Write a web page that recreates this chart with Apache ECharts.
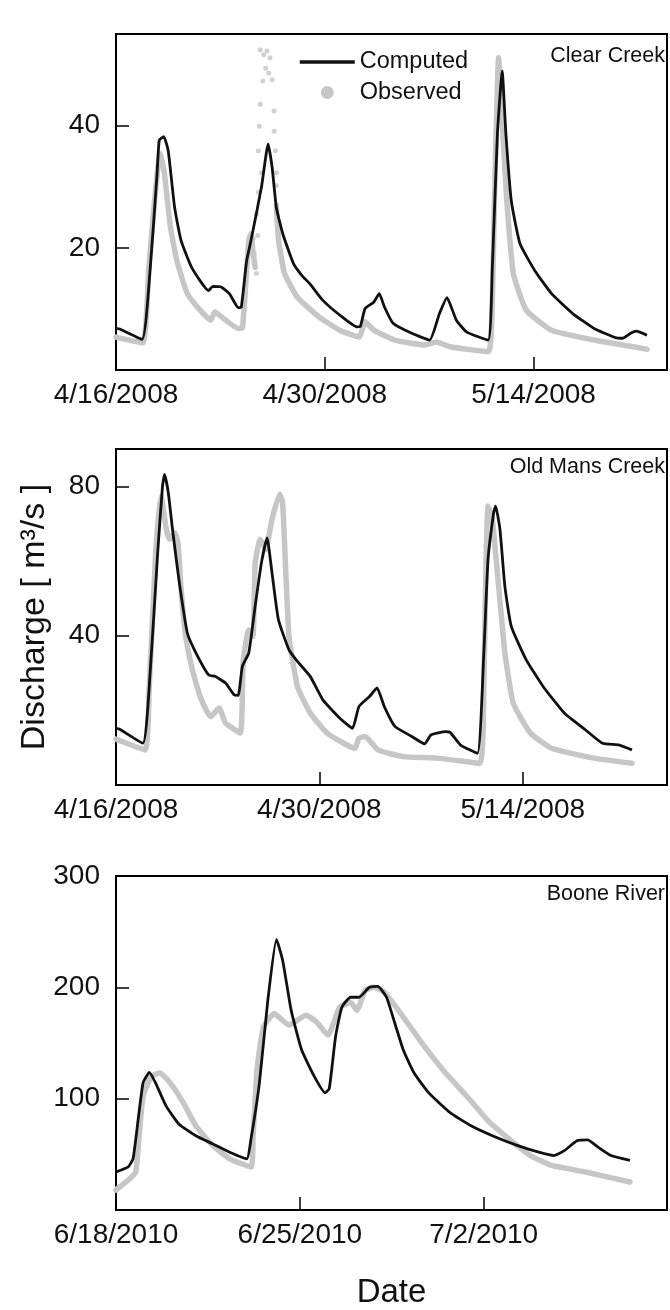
<!DOCTYPE html>
<html>
<head>
<meta charset="utf-8">
<script src="https://cdn.jsdelivr.net/npm/echarts@6/dist/echarts.min.js"></script>
<style>
  html, body { margin: 0; padding: 0; background: #fff; }
  #chart { width: 670px; height: 1310px; }
</style>
</head>
<body>
<div id="chart"></div>
<script>
// ---------------- DATA ----------------
// x = days since first tick date, y = discharge (m3/s)
const panelTitles = ['Clear Creek', 'Old Mans Creek', 'Boone River'];
const xTickLabels2008 = ['4/16/2008', '4/30/2008', '5/14/2008'];
const xTickLabels2010 = ['6/18/2010', '6/25/2010', '7/2/2010'];

// Clear Creek
const clearComputed = [[0,6.8],[0.25,6.7],[1.75,5.0],[2.3,16.8],[2.75,32],[2.9,37.6],[3.2,38.2],[3.5,35.9],[3.93,26.6],[4.36,21.2],[5.07,16.8],[6.2,13.0],[6.5,13.7],[7.05,13.6],[7.6,12.5],[8.2,10.2],[8.4,10.3],[8.76,17.9],[9.05,21.2],[9.75,29.9],[10.2,37.0],[10.47,33.1],[10.75,26.6],[11.18,22.3],[11.9,17.4],[12.45,15.5],[13.0,14.1],[13.87,11.4],[15.0,9.0],[16.15,7.06],[16.37,7.1],[16.7,10.06],[17.28,11.1],[17.65,12.5],[18.0,10.3],[18.56,7.7],[19.83,6.0],[21.03,4.9],[21.68,9.2],[22.19,11.85],[22.82,8.15],[23.52,6.2],[24.95,4.9],[25.23,16.8],[25.57,38.6],[25.89,48.9],[26.14,38.6],[26.5,27.7],[27.08,20.7],[28.07,16.3],[29.2,12.5],[30.62,9.24],[32.05,6.8],[33.47,5.3],[33.98,5.2],[34.5,6.0],[34.88,6.36],[35.6,5.7]];
const clearObservedA = [[0,5.4],[0.1,5.3],[1.8,4.45],[2.2,16.8],[2.6,28],[2.95,35.4],[3.2,33],[3.65,23.4],[4.08,17.9],[4.78,12.5],[5.64,9.8],[6.35,8.15],[6.63,9.5],[7.06,8.7],[8.2,6.8],[8.48,6.9],[8.9,21.2],[9.04,22.3],[9.2,19],[9.33,16.8]];
const clearObservedSpike = [[9.28,19.0],[9.41,15.8],[9.41,25.5],[9.55,29.1],[9.75,32.3],[9.55,35.9],[9.61,39.9],[9.67,43.5],[9.84,47.3],[9.67,52.4],[9.9,51.6],[10.12,52.2],[10.32,51.1],[10.04,49.4],[10.24,48.6],[10.47,47.5],[10.6,42.4],[10.6,39.1],[10.69,35.9],[10.75,32.3],[10.75,30.2],[9.5,22.0],[9.2,21.5]];
const clearObservedB = [[10.75,27],[10.9,21.2],[11.3,15.8],[12.16,11.9],[13.6,8.7],[15.0,6.5],[16.3,5.4],[16.7,7.9],[17.3,6.5],[18.7,4.9],[20.7,4.1],[21.5,4.6],[22.4,3.8],[24.95,3.0],[25.23,11.4],[25.37,27.7],[25.65,51.1],[25.94,38.6],[26.2,27.7],[26.64,15.8],[27.5,9.8],[29.2,6.5],[32.05,4.9],[35.6,3.4]];

// Old Mans Creek
const oldMansComputed = [[0,15.2],[0.25,14.95],[1.85,11.2],[2.29,26.4],[2.87,62.2],[3.2,80],[3.34,83.2],[3.6,78.3],[3.89,68.5],[4.33,55.0],[4.91,40.7],[5.5,35.4],[6.37,29.5],[6.81,29.1],[7.54,27.3],[8.12,24.2],[8.41,24.0],[8.7,31.8],[9.14,35.4],[9.58,47.9],[10.01,59.5],[10.4,66.2],[10.74,56.8],[11.18,44.3],[11.91,36.2],[12.49,33.1],[13.37,29.1],[14.24,22.8],[15.41,17.9],[16.28,15.2],[16.72,21.0],[17.45,23.7],[17.97,26.0],[18.47,21.0],[19.2,15.7],[20.36,13.0],[21.24,11.0],[21.68,13.4],[22.69,14.3],[23.0,14.1],[23.72,10.7],[24.88,8.5],[25.32,35.4],[25.61,60.4],[26.0,73],[26.13,74.7],[26.43,68.5],[26.77,53.2],[27.21,42.5],[28.23,33.6],[29.4,26.4],[30.86,19.3],[32.31,14.8],[33.48,11.2],[34.65,10.7],[35.52,9.4]];
const oldMansObserved = [[0,12.3],[0.1,12.1],[2.0,9.4],[2.29,26.4],[2.73,62.2],[2.93,72],[3.1,77.4],[3.46,68.5],[3.69,65.8],[4.04,67.6],[4.27,64.9],[4.47,53.2],[4.77,40.7],[5.2,31.8],[5.79,23.7],[6.51,18.3],[7.1,20.6],[7.54,16.6],[8.56,13.9],[8.76,33.6],[9.14,41.6],[9.43,39.8],[9.58,59.5],[9.93,65.8],[10.3,63.1],[10.74,71.2],[11.27,77.9],[11.47,75.6],[11.68,57.7],[11.91,39.8],[12.49,26.4],[13.37,19.3],[14.53,13.9],[16.43,9.85],[16.72,12.5],[17.16,13.0],[18.03,9.4],[19.78,7.6],[22.11,7.2],[25.03,5.8],[25.32,26.4],[25.46,57.7],[25.61,74.7],[25.9,71.2],[26.34,53.2],[26.77,35.4],[27.35,21.9],[28.53,13.9],[29.99,9.85],[32.9,7.2],[35.52,5.8]];

// Boone River
const booneComputed = [[0,34],[0.06,34.7],[0.46,38.6],[0.65,46],[0.86,84.4],[1.03,114],[1.27,123.6],[1.51,114],[1.91,93.3],[2.4,77.1],[3.04,66.7],[3.69,59.3],[4.33,51.9],[4.98,46],[5.14,63.7],[5.46,114],[5.78,188.2],[6.11,243],[6.35,223.7],[6.67,179.3],[7.07,143.7],[7.55,120],[7.96,105.2],[8.12,109],[8.36,155.6],[8.6,182.2],[8.93,191.1],[9.25,191.1],[9.65,200],[9.97,200.9],[10.3,191.1],[10.62,167.5],[10.94,143.7],[11.35,123],[11.91,105.2],[12.72,87.5],[13.52,75.6],[14.33,66.7],[15.3,57.8],[16.1,51.9],[16.67,48.9],[17.07,53.3],[17.55,62.2],[17.96,63],[18.36,56.4],[18.85,48.9],[19.57,44.5]];
const booneObserved = [[0,18],[0.06,19.3],[0.46,26.7],[0.75,34.1],[0.86,60.8],[1.03,102.2],[1.35,120],[1.67,123],[2.07,114],[2.56,96.4],[3.04,75.6],[3.69,57.8],[4.33,46],[5.14,38.6],[5.22,66.7],[5.38,128.9],[5.62,164.5],[6.02,176.4],[6.59,166],[7.23,174.9],[7.64,168.9],[8.07,157],[8.52,182.2],[8.93,186.7],[9.17,179.3],[9.49,197],[9.81,200],[10.22,195.6],[10.94,173.3],[11.75,146.7],[12.55,123],[13.36,102.2],[14.17,80],[14.97,63.7],[15.78,48.9],[16.59,40],[17.88,34.1],[19.57,25.2]];

// ---------------- CHART ----------------
const BLACK = '#111111';
const GREY = '#c6c6c6';
const FONT = 'Liberation Sans';

const chart = echarts.init(document.getElementById('chart'), null, { renderer: 'canvas' });

function xFmt(labels, step) {
  return function (v) {
    const i = Math.round(v / step);
    if (Math.abs(v - i * step) > 1e-6) return '';
    return labels[i] !== undefined ? labels[i] : '';
  };
}
function yFmt(step) {
  return function (v) {
    const i = Math.round(v / step);
    if (v === 0 || Math.abs(v - i * step) > 1e-6) return '';
    return String(v);
  };
}

const gridTops = [34, 449, 876];
const grids = gridTops.map(t => ({
  left: 116, top: t, width: 556, height: 336,
  show: true, borderColor: '#000', borderWidth: 2, backgroundColor: 'transparent'
}));

const axisCommon = {
  axisLine: { show: true, lineStyle: { color: '#000', width: 2 } },
  axisTick: { show: true, inside: true, length: 13, lineStyle: { color: '#000', width: 1.5 } },
  splitLine: { show: false }
};

const xMaxes = [36.94, 37.93, 20.98];
const xSteps = [14, 14, 7];
const xLabelSets = [xTickLabels2008, xTickLabels2008, xTickLabels2010];
const xAxes = [0, 1, 2].map(i => Object.assign({}, axisCommon, {
  type: 'value', gridIndex: i, min: 0, max: xMaxes[i], interval: xSteps[i],
  axisLabel: { formatter: xFmt(xLabelSets[i], xSteps[i]), margin: 11, color: BLACK,
    fontFamily: FONT, fontSize: 28 },
  name: i === 2 ? 'Date' : '',
  nameLocation: 'middle', nameGap: 66,
  nameTextStyle: { fontFamily: FONT, fontSize: 33, color: BLACK }
}));

const yMaxes = [55, 90, 300];
const ySteps = [20, 40, 100];
const yAxes = [0, 1, 2].map(i => Object.assign({}, axisCommon, {
  type: 'value', gridIndex: i, min: 0, max: yMaxes[i], interval: ySteps[i],
  axisLabel: { formatter: yFmt(ySteps[i]), margin: 16, color: BLACK, fontFamily: FONT, fontSize: 28 },
  name: i === 1 ? 'Discharge [ m\u00B3/s ]' : '',
  nameLocation: 'middle', nameRotate: 90, nameGap: 64,
  nameTextStyle: { fontFamily: FONT, fontSize: 34, color: BLACK }
}));

function obsLine(idx, data) {
  return { name: 'Observed', type: 'line', xAxisIndex: idx, yAxisIndex: idx, data: data,
    symbol: 'none', showSymbol: false, connectNulls: false, z: 2, smooth: 0.15,
    lineStyle: { color: GREY, width: 5.5, cap: 'round', join: 'round' },
    itemStyle: { color: GREY }, silent: true, animation: false };
}
function compLine(idx, data) {
  return { name: 'Computed', type: 'line', xAxisIndex: idx, yAxisIndex: idx, data: data,
    symbol: 'none', showSymbol: false, z: 3, smooth: 0.15,
    lineStyle: { color: BLACK, width: 2.8, join: 'round' },
    itemStyle: { color: BLACK }, silent: true, animation: false };
}

const clearObserved = clearObservedA.concat([[9.36, null]], clearObservedB);

const series = [
  obsLine(0, clearObserved),
  { name: 'Observed', type: 'scatter', xAxisIndex: 0, yAxisIndex: 0, data: clearObservedSpike,
    symbolSize: 5, itemStyle: { color: GREY }, z: 2, silent: true, animation: false },
  compLine(0, clearComputed),
  obsLine(1, oldMansObserved),
  compLine(1, oldMansComputed),
  obsLine(2, booneObserved),
  compLine(2, booneComputed)
];

const titleTops = [45, 456, 883];
const titles = panelTitles.map((t, i) => ({
  text: t, right: 5, top: titleTops[i], padding: 0,
  textStyle: { fontFamily: FONT, fontSize: 21.5, fontWeight: 'normal', color: BLACK, lineHeight: 22 }
}));

chart.setOption({
  backgroundColor: '#ffffff',
  animation: false,
  title: titles,
  legend: {
    orient: 'vertical', left: 298, top: 50, padding: 0,
    itemWidth: 55, itemHeight: 13, itemGap: 6.5,
    textStyle: { fontFamily: FONT, fontSize: 23.5, color: BLACK },
    data: [
      { name: 'Computed', itemStyle: { opacity: 0 }, lineStyle: { width: 3.5, color: BLACK } },
      { name: 'Observed', icon: 'circle', itemStyle: { color: GREY } }
    ],
    selectedMode: false
  },
  grid: grids,
  xAxis: xAxes,
  yAxis: yAxes,
  series: series
});
</script>
</body>
</html>
